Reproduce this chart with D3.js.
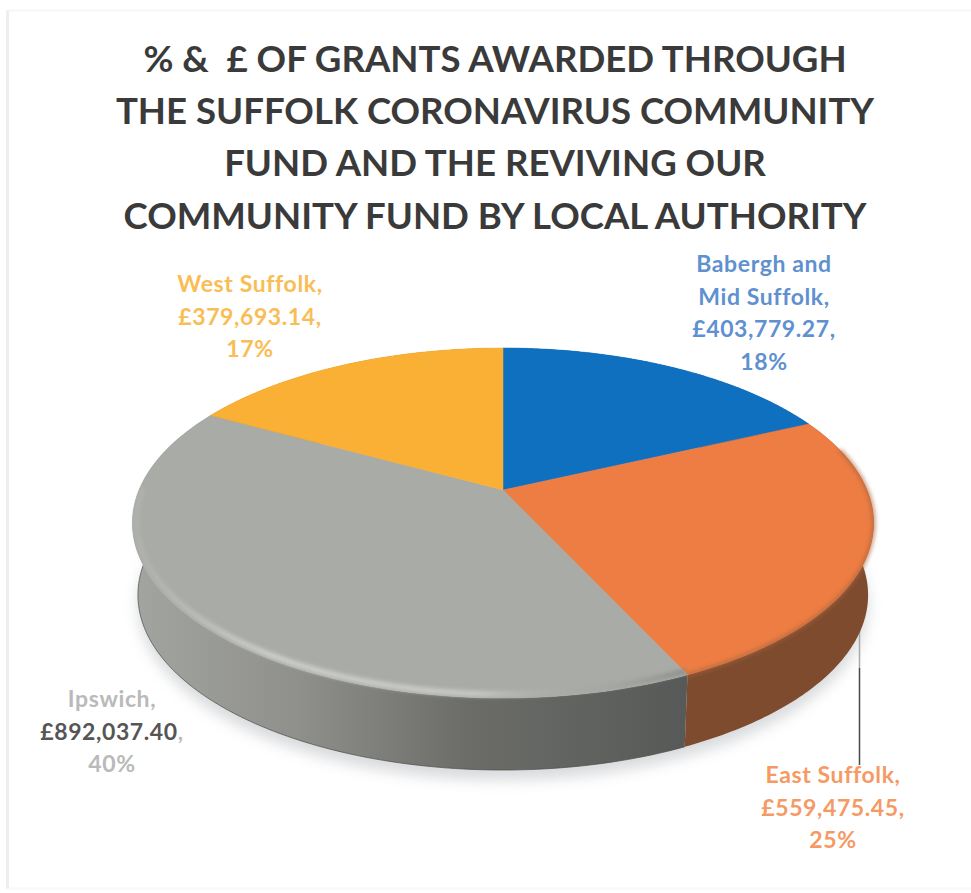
<!DOCTYPE html>
<html>
<head>
<meta charset="utf-8">
<script src="https://cdn.jsdelivr.net/npm/d3@7/dist/d3.min.js"></script>
<style>
html,body{margin:0;padding:0;background:#fff;}
svg{display:block;}
text{font-family:Lato,"Open Sans",sans-serif;font-weight:700;}
</style>
</head>
<body>
<svg id="chart" width="971" height="893"></svg>
<script>
// Grant totals per local authority, in pounds, clockwise from twelve o'clock
const authorities = ["Babergh and Mid Suffolk", "East Suffolk", "Ipswich", "West Suffolk"];
const grantValues = [403779.27, 559475.45, 892037.40, 379693.14];
const titleLines = [
  "% &  £ OF GRANTS AWARDED THROUGH",
  "THE SUFFOLK CORONAVIRUS COMMUNITY",
  "FUND AND THE REVIVING OUR",
  "COMMUNITY FUND BY LOCAL AUTHORITY"
];
const nameLines = [["Babergh and", "Mid Suffolk,"], ["East Suffolk,"], ["Ipswich,"], ["West Suffolk,"]];
const topColours = ["#0f70c0", "#ed7d43", "#a9aba6", "#fab035"];
const labelColours = ["#5f90cf", "#f59a64", "#b9bab9", "#f9bd55"];

const width = 971, height = 893;
const svg = d3.select("#chart");
const defs = svg.append("defs");

// Tilted disc: a unit circle seen in perspective, with the apex off the ellipse centre
const disc = {cx: 503, cy: 490, a: 364, b: 168.8, k: 0.1886, depth: 72, shrink: 0.985};
const projectTop = t => {
  const u = Math.sin(t), v = -Math.cos(t), w = 1 - disc.k * v;
  return [disc.cx + disc.a * u / w, disc.cy + disc.b * v / w];
};
const projectBottom = t => {
  const [x, y] = projectTop(t);
  return [disc.cx + (x - disc.cx) * disc.shrink, y + disc.depth];
};
const samples = (a0, a1) => d3.range(0, 121).map(i => a0 + (a1 - a0) * i / 120);
const line = d3.line();

const arcs = d3.pie().sort(null)(grantValues);
const total = d3.sum(grantValues);
const money = d3.format(",.2f");
const percent = d3.format(".0%");

// Filters and gradients
defs.append("filter").attr("id", "soft").attr("x", "-10%").attr("y", "-10%").attr("width", "120%").attr("height", "130%")
  .append("feGaussianBlur").attr("stdDeviation", 7);
defs.append("filter").attr("id", "rimBlur").attr("x", "-10%").attr("y", "-10%").attr("width", "120%").attr("height", "120%")
  .append("feGaussianBlur").attr("stdDeviation", 2);

const addGradient = (id, stops) => {
  const g = defs.append("linearGradient").attr("id", id)
    .attr("gradientUnits", "userSpaceOnUse")
    .attr("x1", 130).attr("x2", 690).attr("y1", 0).attr("y2", 0);
  stops.forEach(s => g.append("stop").attr("offset", s[0]).attr("stop-color", s[1]).attr("stop-opacity", s[2] === undefined ? 1 : s[2]));
};
addGradient("greySide", [[0, "#a3a5a0"], [0.3, "#8f908b"], [0.6, "#6c6d69"], [1, "#565957"]]);
addGradient("greyRim", [[0, "#c8cac5", 0.2], [0.25, "#d2d4cf", 1], [0.62, "#cfd1cc", 0.9], [0.78, "#a9aba6", 0.2], [1, "#7a7c79", 0.7]]);
const sideFills = ["#0a4f88", "#7e4b2f", "url(#greySide)", "#a87420"];

// Frame left by the page edge
const frame = svg.append("g").attr("fill", "none");
frame.append("path").attr("d", "M7.5,10V889").attr("stroke", "#eeeeee").attr("stroke-width", 3);
frame.append("path").attr("d", "M7,10.5H971").attr("stroke", "#f4f4f4").attr("stroke-width", 1.5);
frame.append("path").attr("d", "M7,888.5H971").attr("stroke", "#f8f8f4").attr("stroke-width", 2);

// Title
svg.append("g").selectAll("text").data(titleLines).join("text")
  .attr("x", 495)
  .attr("y", (d, i) => [72, 124, 176, 229][i])
  .attr("text-anchor", "middle")
  .attr("font-size", 36.6)
  .attr("fill", "#3a3a3a")
  .style("white-space", "pre")
  .text(d => d);

// Soft ground shadow under the disc
const fullTurn = samples(0, 2 * Math.PI);
svg.append("path")
  .attr("d", line(fullTurn.map(t => { const p = projectBottom(t); return [p[0], p[1] + 10]; })) + "Z")
  .attr("fill", "#b9bcc0").attr("opacity", 0.55).attr("filter", "url(#soft)");

// Leader line from the rim to the East Suffolk label
const leader = svg.append("g").attr("fill", "none").attr("stroke-width", 1.5);
leader.append("path").attr("d", "M859.5,625V668").attr("stroke", "#a8a8a8");
leader.append("path").attr("d", "M859.5,668V765").attr("stroke", "#47474a");

// Extruded wall of each slice; the back walls end up hidden by the top face
svg.append("g").selectAll("path").data(arcs).join("path")
  .attr("d", d => {
    const ts = samples(d.startAngle, d.endAngle);
    return line(ts.map(projectTop).concat(ts.slice().reverse().map(projectBottom))) + "Z";
  })
  .attr("fill", (d, i) => sideFills[i]);

// Darker line along the lower edge of the wall
svg.append("path")
  .attr("d", line(samples(arcs[2].startAngle, arcs[2].endAngle).map(projectBottom)))
  .attr("fill", "none").attr("stroke", "#4c4d4a").attr("stroke-width", 1).attr("opacity", 0.7);

// Top face of each slice
const topPath = d => line([[disc.cx, disc.cy]].concat(samples(d.startAngle, d.endAngle).map(projectTop))) + "Z";
svg.append("g").selectAll("path").data(arcs).join("path")
  .attr("d", topPath)
  .attr("fill", (d, i) => topColours[i])
  .attr("stroke", (d, i) => topColours[i])
  .attr("stroke-width", 0.5);

// Rounded bevel on the front rim
const inset = (t, amount) => {
  const [x, y] = projectTop(t);
  return [disc.cx + (x - disc.cx) * (1 - amount / 370), y - amount * (0.2 + 0.8 * Math.max(0, -Math.cos(t)))];
};
svg.append("path")
  .attr("d", line(samples(arcs[2].startAngle, Math.PI * 1.5).map(t => inset(t, 4))))
  .attr("fill", "none").attr("stroke", "url(#greyRim)").attr("stroke-width", 5).attr("filter", "url(#rimBlur)");
svg.append("path")
  .attr("d", line(samples(Math.PI * 0.42, arcs[1].endAngle).map(t => inset(t, 0))))
  .attr("fill", "none").attr("stroke", "#a8623a").attr("stroke-width", 2.5).attr("filter", "url(#rimBlur)");

// Data labels
const labelAnchors = [[764, 272], [833, 783], [112, 707], [250, 292]];
const labels = svg.append("g").attr("font-size", 23).attr("letter-spacing", 0.6).attr("text-anchor", "middle");
arcs.forEach((d, i) => {
  const lines = nameLines[i].concat(["£" + money(d.data) + ",", percent(d.data / total)]);
  const [x, y0] = labelAnchors[i];
  lines.forEach((txt, j) => {
    const t = labels.append("text").attr("x", x).attr("y", y0 + j * 32.7).attr("fill", labelColours[i]);
    // The Ipswich amount is printed darker than the rest of its label
    if (i === 2 && txt.startsWith("£")) {
      t.append("tspan").attr("fill", "#555555").text(txt.slice(0, -1));
      t.append("tspan").text(",");
    } else {
      t.text(txt);
    }
  });
});
</script>
</body>
</html>
